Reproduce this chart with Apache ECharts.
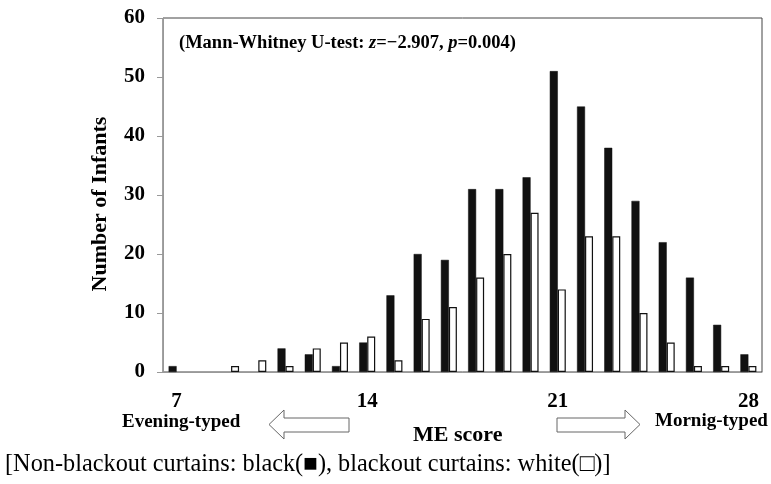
<!DOCTYPE html>
<html>
<head>
<meta charset="utf-8">
<script src="https://cdn.jsdelivr.net/npm/echarts@6/dist/echarts.min.js"></script>
<style>
  html, body { margin: 0; padding: 0; background: #fff; }
  #chart { width: 771px; height: 484px; }
</style>
</head>
<body>
<div id="chart"></div>
<script>
// ME score categories and counts
let scores = ['7', '8', '9', '10', '11', '12', '13', '14', '15', '16', '17', '18', '19', '20', '21', '22', '23', '24', '25', '26', '27', '28'];
let nonBlackout = [1, 0, 0, 0, 4, 3, 1, 5, 13, 20, 19, 31, 31, 33, 51, 45, 38, 29, 22, 16, 8, 3];
let blackout = [0, 0, 1, 2, 1, 4, 5, 6, 2, 9, 11, 16, 20, 27, 14, 23, 23, 10, 5, 1, 1, 1];
let labeledScores = ['7', '14', '21', '28'];
let yTicks = [0, 10, 20, 30, 40, 50, 60];

let serif = '"Liberation Serif", "Times New Roman", serif';

function dropZeros(arr) {
    return arr.map(function (v) {
        return v === 0 ? '-' : v;
    });
}

let chart = echarts.init(document.getElementById('chart'));

let option = {
    animation: false,
    backgroundColor: '#fff',
    grid: {
        left: 163,
        top: 18,
        right: 9,
        bottom: 112,
        show: true,
        borderColor: '#444',
        borderWidth: 1
    },
    xAxis: {
        type: 'category',
        data: scores,
        axisLine: { lineStyle: { color: '#999', width: 1 } },
        axisTick: {
            interval: 0,
            length: 5,
            lineStyle: { color: '#999' }
        },
        axisLabel: {
            interval: function (index, value) {
                return labeledScores.indexOf(value) >= 0;
            },
            margin: 19,
            fontFamily: serif,
            fontWeight: 'bold',
            fontSize: 21,
            color: '#000'
        }
    },
    yAxis: {
        type: 'value',
        min: yTicks[0],
        max: yTicks[yTicks.length - 1],
        interval: 10,
        name: 'Number of Infants',
        nameLocation: 'middle',
        nameGap: 52,
        nameTextStyle: {
            fontFamily: serif,
            fontWeight: 'bold',
            fontSize: 22,
            color: '#000',
            padding: [0, 18, 0, 0]
        },
        splitLine: { show: false },
        axisLine: { show: true, lineStyle: { color: '#999', width: 1 } },
        axisTick: { show: true, length: 6, lineStyle: { color: '#999' } },
        axisLabel: {
            margin: 18,
            fontFamily: serif,
            fontWeight: 'bold',
            fontSize: 21,
            color: '#000'
        }
    },
    series: [{
        name: 'Non-blackout curtains',
        type: 'bar',
        data: dropZeros(nonBlackout),
        barWidth: 8,
        barGap: '0%',
        itemStyle: { color: '#111', borderColor: '#111', borderWidth: 0.5 }
    }, {
        name: 'Blackout curtains',
        type: 'bar',
        data: dropZeros(blackout),
        barWidth: 8,
        itemStyle: { color: '#fff', borderColor: '#111', borderWidth: 1.2 }
    }],
    graphic: [{
        type: 'text',
        left: 179,
        top: 34,
        style: {
            text: '(Mann-Whitney U-test: {i|z}=\u22122.907, {i|p}=0.004)',
            font: 'bold 18.5px ' + serif,
            fill: '#000',
            rich: {
                i: { fontStyle: 'italic', fontWeight: 'bold', fontSize: 18.5, fontFamily: serif, fill: '#000' }
            }
        }
    }, {
        type: 'text',
        left: 122,
        top: 413,
        style: {
            text: 'Evening-typed',
            font: 'bold 19px ' + serif,
            fill: '#000'
        }
    }, {
        type: 'text',
        left: 655,
        top: 412,
        style: {
            text: 'Mornig-typed',
            font: 'bold 19px ' + serif,
            fill: '#000'
        }
    }, {
        type: 'text',
        left: 413,
        top: 424,
        style: {
            text: 'ME score',
            font: 'bold 22px ' + serif,
            fill: '#000'
        }
    }, {
        type: 'text',
        left: 5,
        top: 453,
        style: {
            text: '[Non-blackout curtains: black(\u25A0), blackout curtains: white(\u25A1)]',
            font: '24.3px ' + serif,
            fill: '#000'
        }
    }, {
        // left arrow (toward evening-typed)
        type: 'polygon',
        shape: {
            points: [[269, 424.5], [284, 410], [284, 418], [349, 418], [349, 432], [284, 432], [284, 439]]
        },
        style: { fill: '#fff', stroke: '#666', lineWidth: 1 }
    }, {
        // right arrow (toward morning-typed)
        type: 'polygon',
        shape: {
            points: [[640, 424.5], [625, 410], [625, 418], [557, 418], [557, 432], [625, 432], [625, 439]]
        },
        style: { fill: '#fff', stroke: '#666', lineWidth: 1 }
    }]
};

chart.setOption(option);
</script>
</body>
</html>
